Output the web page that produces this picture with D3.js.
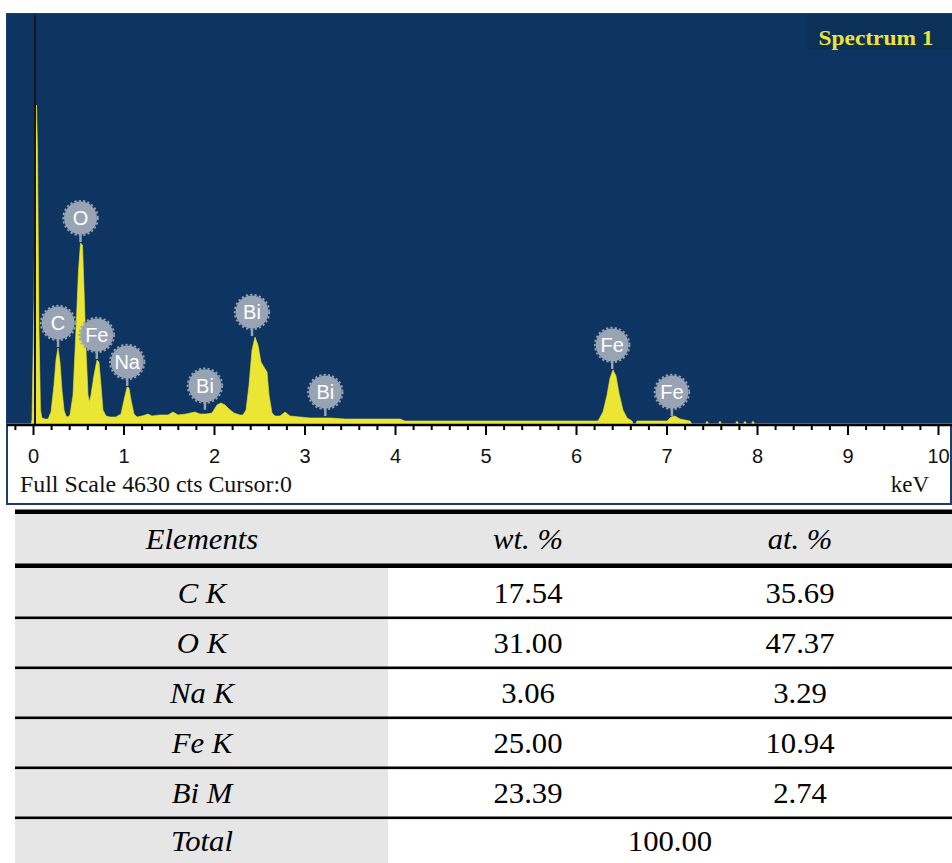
<!DOCTYPE html>
<html><head><meta charset="utf-8">
<script src="https://cdn.jsdelivr.net/npm/d3@7"></script>
<style>body{margin:0;background:#fff}svg{display:block}</style>
</head><body>
<svg id="c" width="952" height="863"></svg>
<script>
// ---- spectrum data (keV, counts) ----
const energyKeV = [-0.287,-0.022,-0.011,0.011,0.028,0.039,0.050,0.066,0.083,0.099,0.133,0.166,0.199,0.232,0.254,0.276,0.298,0.320,0.343,0.365,0.387,0.409,0.442,0.475,0.503,0.525,0.547,0.564,0.586,0.608,0.624,0.641,0.674,0.707,0.729,0.751,0.773,0.807,0.851,0.917,0.972,1.006,1.039,1.061,1.083,1.116,1.149,1.204,1.271,1.315,1.403,1.492,1.547,1.602,1.691,1.790,1.845,1.912,1.978,2.033,2.077,2.122,2.166,2.221,2.287,2.320,2.354,2.387,2.420,2.453,2.486,2.519,2.552,2.586,2.608,2.641,2.674,2.729,2.785,2.840,2.950,3.061,3.282,3.448,3.834,4.055,4.110,5.160,6.243,6.298,6.343,6.376,6.409,6.442,6.475,6.519,6.564,6.619,6.635,6.657,6.674,7.006,7.050,7.094,7.149,7.260,7.282,7.437,7.438,7.458,7.459,7.580,7.581,7.601,7.602,7.768,7.769,7.789,7.790,7.856,7.857,7.877,7.878,7.945,7.946,7.966,7.967,10.155];
const countsCts = [0,0,45,1400,3093,3602,3093,1061,158,68,56,56,135,440,722,858,700,384,158,90,79,102,327,1061,1739,2043,2021,1513,835,327,248,327,553,722,700,440,158,90,79,79,113,271,418,406,271,113,79,90,113,90,102,102,135,102,113,135,113,113,124,215,237,215,169,124,102,102,158,440,835,982,892,700,644,587,327,124,90,90,135,90,79,68,68,56,56,56,34,34,34,135,327,519,610,542,350,158,68,34,0,0,34,34,79,90,56,34,0,0,25,25,0,0,25,25,0,0,25,25,0,0,25,25,0,0,25,25,0,0];

const peakLabels = ["C","O","Fe","Na","Bi","Bi","Bi","Fe","Fe"];
const peakEnergy = [0.277,0.525,0.705,1.041,1.90,2.42,3.23,6.40,7.06];
const peakCounts = [858,2043,723,418,150,982,79,610,79];

const majorTicks = [0,1,2,3,4,5,6,7,8,9,10];
const minorTicks = [-0.2,0.2,0.4,0.6,0.8,1.2,1.4,1.6,1.8,2.2,2.4,2.6,2.8,3.2,3.4,3.6,3.8,4.2,4.4,4.6,4.8,5.2,5.4,5.6,5.8,6.2,6.4,6.6,6.8,7.2,7.4,7.6,7.8,8.2,8.4,8.6,8.8,9.2,9.4,9.6,9.8];
const fullScale = 4630;
const spectrumTitle = "Spectrum 1";
const footerLeft = "Full Scale 4630 cts Cursor:0";
const footerRight = "keV";

// ---- table data ----
const tableHeaders = ["Elements","wt. %","at. %"];
const elements = ["C K","O K","Na K","Fe K","Bi M"];
const wtPct = ["17.54","31.00","3.06","25.00","23.39"];
const atPct = ["35.69","47.37","3.29","10.94","2.74"];
const totalLabel = "Total";
const totalValue = "100.00";

// ---- drawing ----
const svg = d3.select("#c");
const BLUE = "#0e3461", YEL = "#ebe533", LBL = "#98a3b4";

const x = d3.scaleLinear().domain([0,10]).range([33,938]);
const y = d3.scaleLinear().domain([0,fullScale]).range([424,14]);

// frame
svg.append("rect").attr("x",7).attr("y",14).attr("width",944).attr("height",490)
  .attr("fill","#fff").attr("stroke","#1f3d6b").attr("stroke-width",2);
svg.append("rect").attr("x",7).attr("y",14).attr("width",945).attr("height",410).attr("fill",BLUE);
svg.append("rect").attr("x",807).attr("y",15).attr("width",145).attr("height",35).attr("fill","#0b3159");
svg.append("text").attr("x",876).attr("y",45).attr("text-anchor","middle")
  .attr("font-family","Liberation Serif, Times New Roman, serif").attr("font-weight","bold")
  .attr("font-size",21).attr("fill","#efe33a").attr("textLength",115).attr("lengthAdjust","spacingAndGlyphs")
  .text(spectrumTitle);

const pts = energyKeV.map((e,i)=>({e, c:countsCts[i]}));
const clipId = "clipSpec";
svg.append("clipPath").attr("id",clipId).append("rect").attr("x",7).attr("y",14).attr("width",945).attr("height",410);
svg.append("path").datum(pts).attr("clip-path",`url(#${clipId})`)
  .attr("fill",YEL).attr("stroke",YEL).attr("stroke-width",0.6)
  .attr("d", d3.area().x(d=>x(d.e)).y0(y(0)).y1(d=>y(d.c)));

// cursor line
svg.append("line").attr("x1",x(0)+2).attr("x2",x(0)+2).attr("y1",15).attr("y2",424)
  .attr("stroke","#15171c").attr("stroke-width",2);

// peak labels
const lab = svg.append("g").selectAll("g").data(peakLabels.map((t,i)=>({t,e:peakEnergy[i],c:peakCounts[i]})))
  .join("g").attr("transform",d=>`translate(${x(d.e)},${y(d.c)})`);
lab.append("line").attr("x1",0).attr("x2",0).attr("y1",-10).attr("y2",-1).attr("stroke",LBL).attr("stroke-width",2.5);
lab.append("circle").attr("cx",0).attr("cy",-25).attr("r",16.5).attr("fill",LBL);
lab.append("circle").attr("cx",0).attr("cy",-25).attr("r",17.3).attr("fill","none").attr("stroke",LBL)
  .attr("stroke-width",1.8).attr("stroke-dasharray","2.2 2.2");
lab.append("text").attr("x",0).attr("y",-25).attr("dy","0.36em").attr("text-anchor","middle")
  .attr("font-family","Liberation Sans, Arial, sans-serif").attr("font-size",20).attr("fill","#fff")
  .text(d=>d.t);

// axis
svg.append("line").attr("x1",7).attr("x2",952).attr("y1",425).attr("y2",425).attr("stroke","#000").attr("stroke-width",2.5);
const minorAx = svg.append("g").attr("transform","translate(0,425)")
  .call(d3.axisBottom(x).tickValues(minorTicks).tickSize(5).tickFormat(""));
const majorAx = svg.append("g").attr("transform","translate(0,425)")
  .call(d3.axisBottom(x).tickValues(majorTicks).tickSize(10).tickPadding(14).tickFormat(d3.format("d")));
[minorAx,majorAx].forEach(g=>{
  g.select(".domain").remove();
  g.selectAll(".tick line").attr("stroke","#000").attr("stroke-width",2);
});
majorAx.selectAll(".tick text").attr("font-family","Liberation Sans, Arial, sans-serif")
  .attr("font-size",20).attr("fill","#111");

svg.append("text").attr("x",20).attr("y",492).attr("font-family","Liberation Serif, Times New Roman, serif")
  .attr("font-size",23).attr("fill","#111").attr("textLength",272).attr("lengthAdjust","spacingAndGlyphs").text(footerLeft);
svg.append("text").attr("x",929).attr("y",492).attr("text-anchor","end").attr("font-family","Liberation Serif, Times New Roman, serif")
  .attr("font-size",23).attr("fill","#111").text(footerRight);

// ---- table ----
const T = svg.append("g");
const tx0 = 15, tx1 = 952, col1End = 388;
const colCenters = [202, 528, 800];
T.append("rect").attr("x",tx0).attr("y",514).attr("width",tx1-tx0).attr("height",50).attr("fill","#e6e6e6");
T.append("rect").attr("x",tx0).attr("y",566).attr("width",col1End-tx0).attr("height",297).attr("fill","#e6e6e6");
T.append("rect").attr("x",tx0).attr("y",509.5).attr("width",tx1-tx0).attr("height",4.5).attr("fill","#000");
T.append("rect").attr("x",tx0).attr("y",563.5).attr("width",tx1-tx0).attr("height",4.5).attr("fill","#000");
const rowLineY = elements.map((_,i)=>617.8+50*i);
T.selectAll("rect.rl").data(rowLineY).join("rect").attr("class","rl")
  .attr("x",tx0).attr("y",d=>d-1.3).attr("width",tx1-tx0).attr("height",2.6).attr("fill","#000");

function cell(cx, cy, txt, italic){
  T.append("text").attr("transform",`translate(${cx},${cy+10}) scale(1.04,1)`)
    .attr("text-anchor","middle").attr("font-family","Liberation Serif, Times New Roman, serif")
    .attr("font-size",29.5).attr("font-style",italic?"italic":"normal").attr("fill","#000").text(txt);
}
tableHeaders.forEach((h,i)=>cell(colCenters[i],539,h,true));
elements.forEach((el,i)=>{
  const cy = 592.5 + 50*i;
  cell(colCenters[0],cy,el,true);
  cell(colCenters[1],cy,wtPct[i],false);
  cell(colCenters[2],cy,atPct[i],false);
});
cell(colCenters[0],841,totalLabel,true);
cell((col1End+tx1)/2,841,totalValue,false);
</script>
</body></html>
